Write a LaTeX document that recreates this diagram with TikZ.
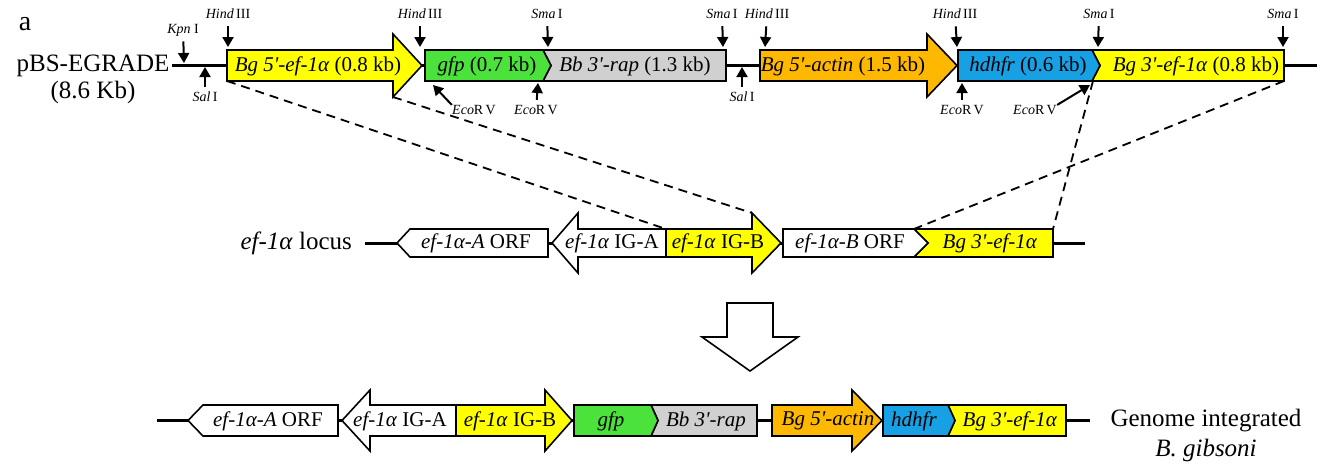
\documentclass[tikz,border=0pt]{standalone}
\usepackage{fontspec}
\setmainfont{Liberation Serif}
\usetikzlibrary{arrows.meta, positioning}

\definecolor{efyellow}{RGB}{255,255,0}
\definecolor{gfpgreen}{RGB}{76,226,60}
\definecolor{rapgray}{RGB}{208,208,208}
\definecolor{actinorange}{RGB}{255,184,0}
\definecolor{dhfrblue}{RGB}{24,160,228}

\begin{document}
\begin{tikzpicture}[
    x=0.5pt, y=-0.5pt,
    font=\fontsize{10.5}{12}\selectfont,
    >={Triangle[length=5pt,width=5.5pt]},
    gene/.style={draw=black, line width=0.8pt, line join=miter},
    backbone/.style={line width=1.5pt},
    site/.style={->, line width=1pt, shorten <=2.5pt},
    sitetext/.style={font=\fontsize{7}{8}\selectfont, inner sep=0pt},
    bigtext/.style={font=\fontsize{12.5}{15}\selectfont, align=center},
    homology/.style={line width=0.9pt, dash pattern=on 4.5pt off 3pt}
]
    \useasboundingbox (0,0) rectangle (1317,468);

    % plasmid
    \node[font=\fontsize{14}{16}\selectfont] (panel) at (25,24) {a};
    \node[bigtext, font=\fontsize{12.5}{13.5}\selectfont] (plasmid) at (93,79) {pBS-EGRADE\\(8.6 Kb)};
    \draw[backbone] (172,65) -- (1317,65);
    \draw[gene, fill=efyellow] (227,50) -- (393,50) -- (393,34) -- (422,65.5) -- (393,97) -- (393,81) -- (227,81) -- cycle;
    \draw[gene, fill=rapgray] (543,50) -- (726,50) -- (726,81) -- (543,81) -- (551,65.5) -- cycle;
    \draw[gene, fill=gfpgreen] (425,50) -- (543,50) -- (551,65.5) -- (543,81) -- (425,81) -- cycle;
    \draw[gene, fill=actinorange] (760,50) -- (927,50) -- (927,34) -- (957,65.5) -- (927,97) -- (927,81) -- (760,81) -- cycle;
    \draw[gene, fill=efyellow] (1092,50) -- (1284,50) -- (1284,81) -- (1092,81) -- (1100,65.5) -- cycle;
    \draw[gene, fill=dhfrblue] (958,50) -- (1092,50) -- (1100,65.5) -- (1092,81) -- (958,81) -- cycle;
    \node (bgef5) at (318,66) {\textit{Bg 5\textquotesingle-ef-1α} (0.8 kb)};
    \node (gfp) at (487,66) {\textit{gfp} (0.7 kb)};
    \node (rap) at (635,66) {\textit{Bb 3\textquotesingle-rap} (1.3 kb)};
    \node (actin) at (843,66) {\textit{Bg 5\textquotesingle-actin} (1.5 kb)};
    \node (hdhfr) at (1028,66) {\textit{hdhfr} (0.6 kb)};
    \node (bgef3) at (1196,66) {\textit{Bg 3\textquotesingle-ef-1α} (0.8 kb)};

    % restriction sites
    \node[sitetext] (kpn) at (183,30) {\textit{Kpn} I};
    \node[sitetext] (hind1) at (228,14) {\textit{Hind}\,III};
    \node[sitetext] (sal1) at (205,97) {\textit{Sal}\,I};
    \node[sitetext] (hind2) at (420,14) {\textit{Hind}\,III};
    \node[sitetext] (ecor1) at (474,110) {\textit{Eco}R\,V};
    \node[sitetext] (ecor2) at (536,110) {\textit{Eco}R\,V};
    \node[sitetext] (sma1) at (547,14) {\textit{Sma}\,I};
    \node[sitetext] (sma2) at (722,14) {\textit{Sma}\,I};
    \node[sitetext] (hind3) at (767,14) {\textit{Hind}\,III};
    \node[sitetext] (sal2) at (742,97) {\textit{Sal}\,I};
    \node[sitetext] (hind4) at (955,14) {\textit{Hind}\,III};
    \node[sitetext] (ecor3) at (962,110) {\textit{Eco}R\,V};
    \node[sitetext] (ecor4) at (1035,110) {\textit{Eco}R\,V};
    \node[sitetext] (sma3) at (1099,14) {\textit{Sma}\,I};
    \node[sitetext] (sma4) at (1283,14) {\textit{Sma}\,I};
    \coordinate (kpnsite) at (184,63);
    \coordinate (hind1site) at (228,47);
    \coordinate (sal1site) at (205,67);
    \coordinate (hind2site) at (420,47);
    \coordinate (ecor1site) at (433,85);
    \coordinate (ecor2site) at (538,83);
    \coordinate (sma1site) at (548,47);
    \coordinate (sma2site) at (723,47);
    \coordinate (hind3site) at (765,47);
    \coordinate (sal2site) at (742,67);
    \coordinate (hind4site) at (957,47);
    \coordinate (ecor3site) at (962,83);
    \coordinate (ecor4site) at (1090,85);
    \coordinate (sma3site) at (1098,47);
    \coordinate (sma4site) at (1283,47);
    \draw[site] (kpn) -- (kpnsite);
    \draw[site, shorten <=3.5pt] (hind1) -- (hind1site);
    \draw[site] (sal1) -- (sal1site);
    \draw[site, shorten <=3.5pt] (hind2) -- (hind2site);
    \draw[site, shorten <=0pt] (ecor1.north west) -- (ecor1site);
    \draw[site] (ecor2) -- (ecor2site);
    \draw[site, shorten <=3.5pt] (sma1) -- (sma1site);
    \draw[site, shorten <=3.5pt] (sma2) -- (sma2site);
    \draw[site, shorten <=3.5pt] (hind3) -- (hind3site);
    \draw[site] (sal2) -- (sal2site);
    \draw[site, shorten <=3.5pt] (hind4) -- (hind4site);
    \draw[site] (ecor3) -- (ecor3site);
    \draw[site, shorten <=0pt] (ecor4.north east) -- (ecor4site);
    \draw[site, shorten <=3.5pt] (sma3) -- (sma3site);
    \draw[site, shorten <=3.5pt] (sma4) -- (sma4site);

    % native locus
    \node[bigtext, anchor=east] (locus) at (359,243) {\textit{ef-1α} locus};
    \draw[backbone] (365,243) -- (1085,243);
    \draw[gene, fill=white] (397,243) -- (410,229) -- (548,229) -- (548,257) -- (410,257) -- cycle;
    \draw[gene, fill=white] (552,243) -- (578,213) -- (578,229) -- (666,229) -- (666,257) -- (578,257) -- (578,273) -- cycle;
    \draw[gene, fill=efyellow] (666,229) -- (752,229) -- (752,213) -- (781,243) -- (752,273) -- (752,257) -- (666,257) -- cycle;
    \draw[gene, fill=efyellow] (914,229) -- (1053,229) -- (1053,257) -- (914,257) -- (928,243) -- cycle;
    \draw[gene, fill=white] (783,229) -- (914,229) -- (928,243) -- (914,257) -- (783,257) -- cycle;
    \node (orfA) at (476,243) {\textit{ef-1α-A} ORF};
    \node (igA) at (612,243) {\textit{ef-1α} IG-A};
    \node (igB) at (718,243) {\textit{ef-1α} IG-B};
    \node (orfB) at (850,243) {\textit{ef-1α-B} ORF};
    \node (bgef3m) at (990,243) {\textit{Bg 3\textquotesingle-ef-1α}};

    % homology arms
    \coordinate (arm5a) at (227,81);
    \coordinate (arm5b) at (393,97);
    \coordinate (arm3a) at (1093,81);
    \coordinate (arm3b) at (1284,81);
    \coordinate (igBa) at (666,229);
    \coordinate (igBb) at (752,213);
    \coordinate (locus3a) at (914,229);
    \coordinate (locus3b) at (1053,229);
    \draw[homology] (arm5a) -- (igBa);
    \draw[homology] (arm5b) -- (igBb);
    \draw[homology] (arm3b) -- (locus3a);
    \draw[homology] (arm3a) -- (locus3b);

    % integration
    \draw[line width=0.8pt, fill=white] (727,303) -- (773,303) -- (773,337) -- (798,337) -- (750,371) -- (702,337) -- (727,337) -- cycle;

    % integrated genome
    \draw[backbone] (157,420) -- (1090,420);
    \draw[gene, fill=white] (188,420.5) -- (203,405) -- (338,405) -- (338,436) -- (203,436) -- cycle;
    \draw[gene, fill=white] (342,420.5) -- (370,390) -- (370,405) -- (456,405) -- (456,436) -- (370,436) -- (370,451) -- cycle;
    \draw[gene, fill=efyellow] (456,405) -- (545,405) -- (545,390) -- (572,420.5) -- (545,451) -- (545,436) -- (456,436) -- cycle;
    \draw[gene, fill=rapgray] (651,405) -- (757,405) -- (757,436) -- (651,436) -- (658,420.5) -- cycle;
    \draw[gene, fill=gfpgreen] (574,405) -- (651,405) -- (658,420.5) -- (651,436) -- (574,436) -- cycle;
    \draw[gene, fill=actinorange] (772,405) -- (852,405) -- (852,390) -- (882,420.5) -- (852,451) -- (852,436) -- (772,436) -- cycle;
    \draw[gene, fill=efyellow] (948,405) -- (1066,405) -- (1066,436) -- (948,436) -- (955,420.5) -- cycle;
    \draw[gene, fill=dhfrblue] (883,405) -- (948,405) -- (955,420.5) -- (948,436) -- (883,436) -- cycle;
    \node (orfA2) at (268,421) {\textit{ef-1α-A} ORF};
    \node (igA2) at (400,421) {\textit{ef-1α} IG-A};
    \node (igB2) at (510,421) {\textit{ef-1α} IG-B};
    \node (gfp2) at (611,421) {\textit{gfp}};
    \node (rap2) at (706,421) {\textit{Bb 3\textquotesingle-rap}};
    \node (actin2) at (828,421) {\textit{Bg 5\textquotesingle-actin}};
    \node (hdhfr2) at (914,421) {\textit{hdhfr}};
    \node (bgef3b) at (1010,421) {\textit{Bg 3\textquotesingle-ef-1α}};
    \node[bigtext] (genome) at (1206,435) {Genome integrated\\\textit{B. gibsoni}};
\end{tikzpicture}
\end{document}
